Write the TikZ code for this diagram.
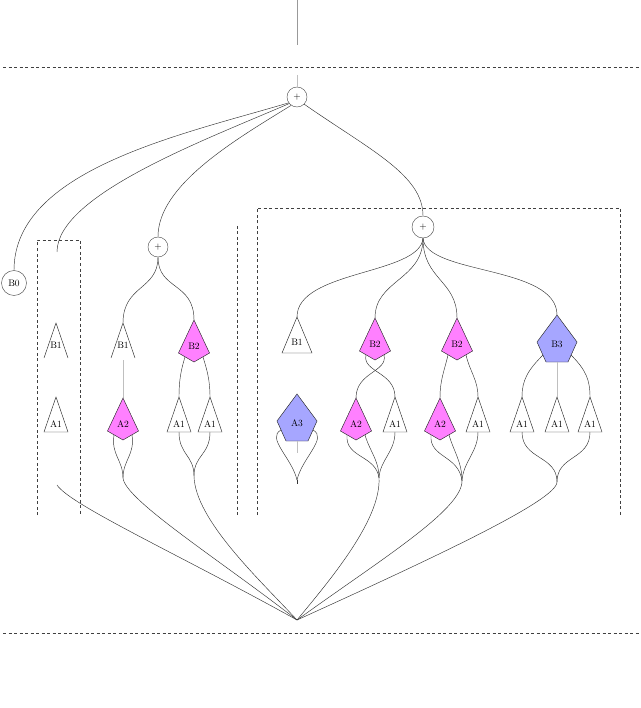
\documentclass[tikz,border=0pt]{standalone}
\definecolor{pinkfill}{RGB}{255,128,255}
\definecolor{bluefill}{RGB}{166,166,255}
\tikzset{
  wire/.style={line width=0.45pt, draw=black!80},
  faint/.style={line width=0.45pt, draw=black!25},
  frame/.style={line width=0.5pt, draw=black!75, dash pattern=on 3pt off 2.5pt},
  outline/.style={line width=0.45pt, draw=black!85},
  lbl/.style={font=\fontsize{9.5}{10}\selectfont, inner sep=0pt},
  plusnode/.style={circle, draw=black!70, line width=0.45pt, minimum size=20pt, inner sep=0pt, font=\fontsize{9.5}{10}\selectfont},
}
% closed triangle: name, x, top y, label
\newcommand\Tri[4]{%
  \draw[outline, fill=white] ({#2-12},{#3+35}) -- (#2,#3) -- ({#2+12},{#3+35}) -- cycle;
  \node[lbl] (#1) at (#2,{#3+27}) {#4};
  \coordinate (#1-t) at (#2,#3);
  \coordinate (#1-b) at (#2,{#3+35});
}
% wide closed triangle
\newcommand\WTri[4]{%
  \draw[outline, fill=white] ({#2-15},{#3+36}) -- (#2,#3) -- ({#2+15},{#3+36}) -- cycle;
  \node[lbl] (#1) at (#2,{#3+25}) {#4};
  \coordinate (#1-t) at (#2,#3);
}
% open triangle (no base)
\newcommand\OTri[4]{%
  \draw[outline] ({#2-12},{#3+35}) -- (#2,#3) -- ({#2+12},{#3+35});
  \node[lbl] (#1) at (#2,{#3+22}) {#4};
  \coordinate (#1-t) at (#2,#3);
}
% kite: name, x, top y, label
\newcommand\Kite[4]{%
  \draw[outline, fill=pinkfill] (#2,#3) -- ({#2+15.5},{#3+33}) -- (#2,{#3+42}) -- ({#2-15.5},{#3+33}) -- cycle;
  \node[lbl] (#1) at (#2,{#3+26}) {#4};
  \coordinate (#1-t) at (#2,#3);
  \coordinate (#1-l) at ({#2-9},{#3+37});
  \coordinate (#1-r) at ({#2+9},{#3+37});
}
% pentagon: name, x, top y, label
\newcommand\Pent[4]{%
  \draw[outline, fill=bluefill] (#2,#3) -- ({#2+20},{#3+27}) -- ({#2+11},{#3+47}) -- ({#2-11},{#3+47}) -- ({#2-20},{#3+27}) -- cycle;
  \node[lbl] (#1) at (#2,{#3+29}) {#4};
  \coordinate (#1-t) at (#2,#3);
  \coordinate (#1-l) at ({#2-14},{#3+40});
  \coordinate (#1-r) at ({#2+14},{#3+40});
  \coordinate (#1-ll) at ({#2-16},{#3+36});
  \coordinate (#1-rr) at ({#2+16},{#3+36});
  \coordinate (#1-b) at (#2,{#3+47});
}
\begin{document}
\begin{tikzpicture}[x=1pt,y=-1pt]
\useasboundingbox (0,0) rectangle (640,708);

% horizontal dashed rules
\draw[frame] (3,67) -- (640,67);
\draw[frame] (3,633) -- (640,633);

% frames
\draw[frame] (37,515) -- (37,240) -- (80,240) -- (80,515);
\draw[frame] (237,226) -- (237,515);
\draw[frame] (257,515) -- (257,208) -- (620,208) -- (620,515);

% circle nodes
\node[plusnode] (top) at (297,97) {+};
\node[plusnode] (mp) at (158,247) {+};
\node[plusnode, minimum size=22pt] (rp) at (423,227) {+};
\node[circle, draw=black!70, line width=0.45pt, minimum size=25pt, inner sep=0pt, font=\fontsize{9.5}{10}\selectfont] (b0) at (14,283) {B0};

% free ends
\coordinate (topin) at (297,0);
\coordinate (topmid) at (297,45);
\coordinate (topin2) at (297,75);
\coordinate (boxin) at (57,252);
\coordinate (boxout) at (57,485);
\coordinate (bot) at (297,620);
\coordinate (mA) at (123,478);
\coordinate (mB) at (194,476);
\coordinate (mC) at (297,480);
\coordinate (mCe) at (297,484);
\coordinate (mD) at (379,478);
\coordinate (mE) at (462,481);
\coordinate (mF) at (557,482);
\coordinate (a3e) at (297,453);
\coordinate (mb1e) at (123,360);

% top input
\draw[line width=0.45pt, draw=black!40] (topin) -- (topmid);
\draw[faint] (topin2) -- (top.north);

% top plus wires
\draw[wire] (top.215) .. controls (180,135) and (14,170) .. (b0.north);
\draw[wire] (top.220) .. controls (205,140) and (57,195) .. (boxin);
\draw[wire] (top.235) .. controls (235,140) and (158,185) .. (mp.north);
\draw[wire] (top.315) .. controls (370,150) and (423,175) .. (rp.north);

% shapes: left box
\OTri{lb1}{56}{323}{B1}
\Tri{la1}{56}{397}{A1}

% middle group
\draw[wire] (mp.south) .. controls (158,290) and (123,285) .. (123,323);
\draw[wire] (mp.south) .. controls (158,290) and (194,282) .. (194,320);
\draw[faint] (mb1e) -- (123,398);
\OTri{mb1}{123}{323}{B1}
\Kite{mb2}{194}{320}{B2}
\Kite{ma2}{123}{398}{A2}
\Tri{ma1a}{179}{397}{A1}
\Tri{ma1b}{210}{397}{A1}
\draw[wire] (mb2-l) .. controls (181,370) and (179,380) .. (ma1a-t);
\draw[wire] (mb2-r) .. controls (207,370) and (210,380) .. (ma1b-t);
\draw[wire] (ma1a-b) .. controls (179,455) and (194,455) .. (mB);
\draw[wire] (ma1b-b) .. controls (210,455) and (194,455) .. (mB);
\draw[wire] (ma2-l) .. controls (111,455) and (123,460) .. (mA);
\draw[wire] (ma2-r) .. controls (135,455) and (123,460) .. (mA);

% right group
\draw[wire] (rp.south) .. controls (420,275) and (297,270) .. (297,317);
\draw[wire] (rp.south) .. controls (423,280) and (375,280) .. (375,318);
\draw[wire] (rp.south) .. controls (423,280) and (457,280) .. (457,318);
\draw[wire] (rp.south) .. controls (426,275) and (557,265) .. (557,315);
\WTri{rb1}{297}{317}{B1}
\Pent{ra3}{297}{394}{A3}
\Kite{rb2a}{375}{318}{B2}
\Kite{ra2a}{356}{398}{A2}
\Tri{ra1a}{395}{397}{A1}
\Kite{rb2b}{457}{318}{B2}
\Kite{ra2b}{440}{398}{A2}
\Tri{ra1b}{478}{397}{A1}
\Pent{rb3}{557}{315}{B3}
\Tri{ra1c}{522}{397}{A1}
\Tri{ra1d}{557}{397}{A1}
\Tri{ra1e}{590}{397}{A1}

\draw[wire] (rb2a-l) .. controls (362,372) and (395,372) .. (ra1a-t);
\draw[wire] (rb2a-r) .. controls (388,372) and (356,372) .. (ra2a-t);
\draw[wire] (rb2b-l) .. controls (444,372) and (440,380) .. (ra2b-t);
\draw[wire] (rb2b-r) .. controls (470,372) and (478,380) .. (ra1b-t);
\draw[wire] (rb3-l) .. controls (528,370) and (522,380) .. (ra1c-t);
\draw[faint] (rb3-b) -- (ra1d-t);
\draw[wire] (rb3-r) .. controls (586,370) and (590,380) .. (ra1e-t);

\draw[wire] (ra2a-l) .. controls (345,458) and (376,455) .. (mD);
\draw[wire] (ra2a-r) .. controls (370,452) and (379,460) .. (mD);
\draw[wire] (ra1a-b) .. controls (395,452) and (380,460) .. (mD);
\draw[wire] (ra2b-l) .. controls (429,458) and (459,455) .. (mE);
\draw[wire] (ra2b-r) .. controls (454,452) and (462,462) .. (mE);
\draw[wire] (ra1b-b) .. controls (478,452) and (463,462) .. (mE);
\draw[wire] (ra1c-b) .. controls (522,460) and (557,455) .. (mF);
\draw[wire] (ra1e-b) .. controls (590,460) and (557,455) .. (mF);

\draw[wire] (ra3-ll) .. controls (266,438) and (292,458) .. (mC);
\draw[wire] (ra3-rr) .. controls (328,438) and (302,458) .. (mC);
\draw[faint] (ra3-b) -- (a3e);
\draw[wire] (mC) -- (mCe);

% outputs to bottom point
\draw[wire] (boxout) .. controls (70,505) and (180,555) .. (bot);
\draw[wire] (mA) .. controls (125,500) and (220,560) .. (bot);
\draw[wire] (mB) .. controls (195,520) and (260,580) .. (bot);
\draw[wire] (mD) .. controls (381,520) and (330,580) .. (bot);
\draw[wire] (mE) .. controls (462,510) and (380,560) .. (bot);
\draw[wire] (mF) .. controls (557,500) and (440,555) .. (bot);
\end{tikzpicture}
\end{document}
